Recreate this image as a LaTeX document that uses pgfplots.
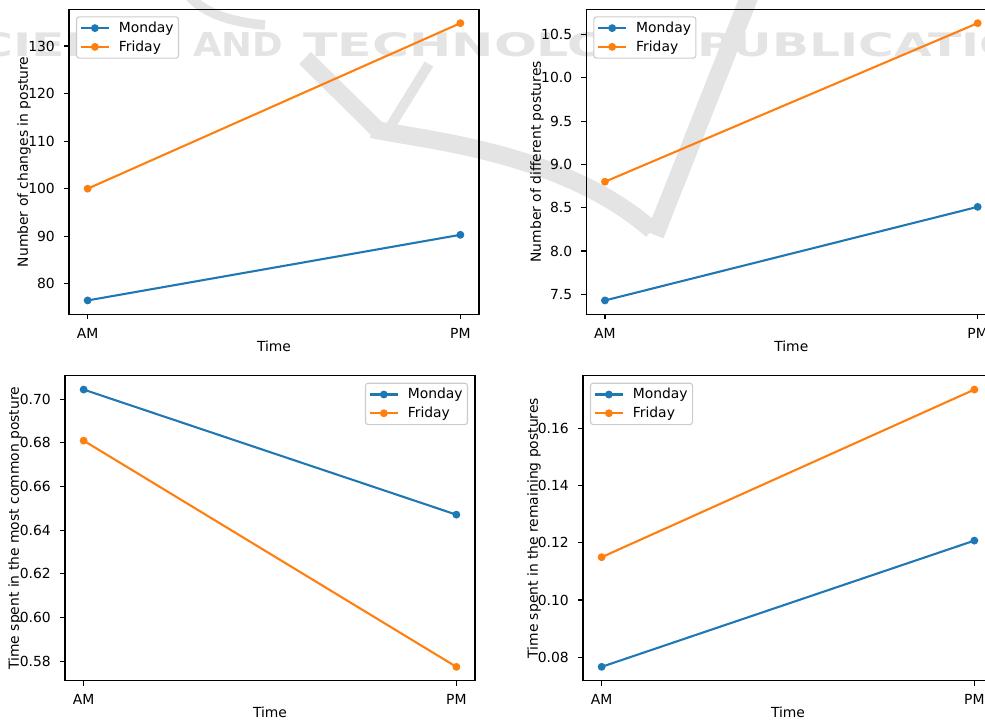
\documentclass[border=0pt]{standalone}
\usepackage{fontspec}
\setmainfont{DejaVu Sans}
\newfontfamily\wmfont{DejaVu Sans}
\usepackage{pgfplots}
\pgfplotsset{compat=1.18}
\definecolor{cA}{HTML}{1F77B4}
\definecolor{cB}{HTML}{FF7F0E}
\definecolor{wm}{gray}{0.895}
\pgfplotsset{
  mpl/.style={
    scale only axis, width=295.2pt, height=219.6pt,
    xmin=-0.05, xmax=1.05, xtick={0,1}, xticklabels={AM,PM},
    tick align=outside, tick pos=left, major tick length=3.5pt,
    every tick/.style={black, line width=0.8pt},
    axis line style={black, line width=0.8pt},
    /pgf/number format/assume math mode=true,
    yticklabel style={anchor=east, inner sep=0pt, xshift=-6.5pt},
    xticklabel style={anchor=north, inner sep=0pt, yshift=-6.3pt},
    xlabel={Time},
    xlabel style={at={([yshift=-18.7pt]axis description cs:0.5,0)}, anchor=north, inner sep=0pt},
    legend cell align=left,
    legend image code/.code={\draw[mark repeat=2,mark phase=2,##1] plot coordinates {(0pt,0pt) (10pt,0pt) (20pt,0pt)};},
    legend style={draw=black!20, line width=0.8pt, rounded corners=2pt, fill=white,
      inner xsep=2.5pt, inner ysep=2.6pt, row sep=2.4pt, column sep=5.5pt,
      nodes={inner sep=1pt}},
    every axis plot/.append style={line width=1.5pt, mark=*, mark size=2.3pt, mark options={solid, line width=1pt}},
  },
  lul/.style={legend style={at={(0,1)}, anchor=north west, xshift=5pt, yshift=-5pt}},
  lur/.style={legend style={at={(1,1)}, anchor=north east, xshift=-5pt, yshift=-5pt}},
}
\begin{document}
\begin{tikzpicture}
% watermark
\begin{scope}[shift={(0pt,517.68pt)}, x=0.72pt, y=-0.72pt]
  \draw[wm, line width=12.2pt] (305,58) -- (378,130);
  \draw[wm, line width=13pt] (372,129) .. controls (420,140) and (560,150) .. (652,230);
  \draw[wm, line width=13pt] (655,235) -- (750,-5);
  \draw[wm, line width=7.2pt] (429,64) -- (390,127);
  \draw[wm, line width=7pt] (190,-3) .. controls (205,13) and (230,22) .. (265,25);
  \node[anchor=base west, inner sep=0pt, text=wm] at (-58,57) {\resizebox{167.8pt}{17.28pt}{\wmfont\bfseries SCIENCE}};
  \node[anchor=base west, inner sep=0pt, text=wm] at (193,57) {\resizebox{64.8pt}{17.28pt}{\wmfont\bfseries AND}};
  \node[anchor=base west, inner sep=0pt, text=wm] at (303,57) {\resizebox{276.5pt}{17.28pt}{\wmfont\bfseries TECHNOLOGY}};
  \node[anchor=base west, inner sep=0pt, text=wm] at (697,57) {\resizebox{287.3pt}{17.28pt}{\wmfont\bfseries PUBLICATIONS}};
\end{scope}

% top left
\begin{axis}[mpl, lul, at={(49.68pt,291.38pt)}, anchor=south west,
  ymin=73.585, ymax=137.715, ytick={80,90,100,110,120,130},
  ylabel={Number of changes in posture},
  ylabel style={at={([xshift=-37.4pt]axis description cs:0,0.5)}, anchor=north, inner sep=0pt}]
\addplot[color=cA] coordinates {(0,76.5) (1,90.3)};
\addlegendentry{Monday}
\addplot[color=cB] coordinates {(0,100.0) (1,134.8)};
\addlegendentry{Friday}
\end{axis}

% top right
\begin{axis}[mpl, lul, at={(422.14pt,291.38pt)}, anchor=south west,
  ymin=7.27, ymax=10.79, ytick={7.5,8.0,8.5,9.0,9.5,10.0,10.5},
  yticklabel style={/pgf/number format/.cd, fixed, fixed zerofill, precision=1},
  ylabel={Number of different postures},
  ylabel style={at={([xshift=-40.5pt]axis description cs:0,0.5)}, anchor=north, inner sep=0pt}]
\addplot[color=cA] coordinates {(0,7.43) (1,8.51)};
\addlegendentry{Monday}
\addplot[color=cB] coordinates {(0,8.80) (1,10.63)};
\addlegendentry{Friday}
\end{axis}

% bottom left
\begin{axis}[mpl, lur, at={(46.8pt,27.58pt)}, anchor=south west,
  ymin=0.57105, ymax=0.71075, ytick={0.58,0.60,0.62,0.64,0.66,0.68,0.70},
  yticklabel style={/pgf/number format/.cd, fixed, fixed zerofill, precision=2},
  ylabel={Time spent in the most common posture},
  ylabel style={at={([xshift=-41pt]axis description cs:0,0.5)}, anchor=north, inner sep=0pt}]
\addplot[color=cA] coordinates {(0,0.7044) (1,0.6471)};
\addlegendentry{Monday}
\addplot[color=cB] coordinates {(0,0.681) (1,0.5774)};
\addlegendentry{Friday}
\end{axis}

% bottom right
\begin{axis}[mpl, lul, at={(419.76pt,27.58pt)}, anchor=south west,
  ymin=0.071745, ymax=0.178555, ytick={0.08,0.10,0.12,0.14,0.16},
  yticklabel style={/pgf/number format/.cd, fixed, fixed zerofill, precision=2},
  ylabel={Time spent in the remaining postures},
  ylabel style={at={([xshift=-40.3pt]axis description cs:0,0.5)}, anchor=north, inner sep=0pt}]
\addplot[color=cA] coordinates {(0,0.0766) (1,0.1208)};
\addlegendentry{Monday}
\addplot[color=cB] coordinates {(0,0.115) (1,0.1737)};
\addlegendentry{Friday}
\end{axis}

\pgfresetboundingbox
\path[use as bounding box] (0pt,0pt) rectangle (709.2pt,517.68pt);
\end{tikzpicture}
\end{document}
